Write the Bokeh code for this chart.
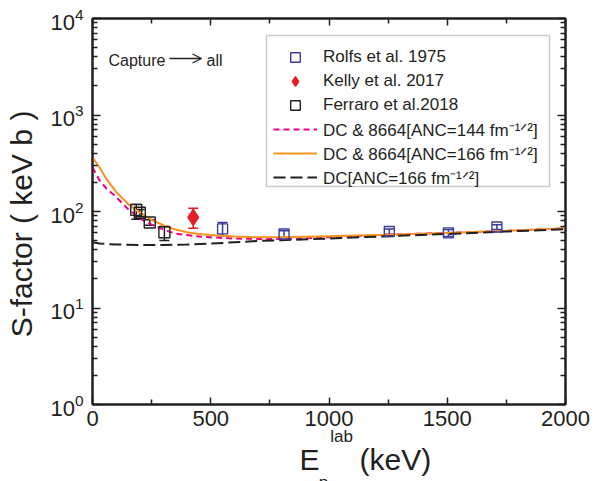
import math
from bokeh.plotting import figure
from bokeh.models import (ColumnDataSource, Whisker, TeeHead, Legend, LegendItem, BoxAnnotation,
                          Label, Arrow, OpenHead, LinearAxis, LogAxis, FixedTicker, Range1d)
from bokeh.embed import file_html
from bokeh.resources import INLINE

# ---------------- data ----------------
rolfs_e = [550, 810, 1255, 1505, 1710]
rolfs_s = [66, 58.5, 62, 60, 69]
rolfs_lo = [56, 54, 58, 55, 65]
rolfs_hi = [77, 63, 66, 65, 73]

kelly_e = [426]
kelly_s = [87]
kelly_lo = [67]
kelly_hi = [108]

ferraro_e = [185, 200, 242, 304]
ferraro_s = [104, 97, 77, 61]
ferraro_lo = [83, 88, 72, 50]
ferraro_hi = [118, 105, 82, 70]

anc144_e = [0, 30, 60, 100, 150, 200, 250, 300, 350, 400, 450, 500, 600, 700, 800, 1000, 1250, 1500, 1750, 2000]
anc144_s = [286, 210, 172, 141, 106, 85, 73, 65, 59, 57, 55, 54, 52.5, 52, 52, 54, 57.5, 60, 63, 67]

anc166_e = [0, 30, 60, 100, 150, 190, 250, 300, 350, 400, 450, 500, 550, 600, 700, 800, 1000, 1250, 1500, 1750, 2000]
anc166_s = [365, 285, 215, 160, 120, 101, 82, 72, 65, 61, 58.5, 57, 56, 55, 54, 54, 55.5, 57.5, 60, 63, 67]

dc_e = [0, 30, 100, 200, 300, 400, 500, 600, 700, 800, 1000, 1250, 1500, 1750, 2000]
dc_s = [48, 46.5, 45.5, 45, 45, 45.5, 46.5, 48, 49.5, 50.5, 52.5, 55.5, 58.5, 62, 65.5]

x_major = [0, 500, 1000, 1500, 2000]
x_minor = [250, 750, 1250, 1750]
y_major = [1, 10, 100, 1000, 10000]
y_minor = [k * 10 ** n for n in range(0, 4) for k in range(2, 10)]

legend_labels = ["Rolfs et al. 1975", "Kelly et al. 2017", "Ferraro et al.2018",
                 "DC & 8664[ANC=144 fm\u207b\u00b9\u141f\u00b2]",
                 "DC & 8664[ANC=166 fm\u207b\u00b9\u141f\u00b2]",
                 "DC[ANC=166 fm\u207b\u00b9\u141f\u00b2]"]
y_title = "S-factor ( keV b )"
x_title_main = "E"
x_title_sub = "p"
x_title_sup = "lab"
x_title_unit = "(keV)"
note_left = "Capture"
note_right = "all"

# ---------------- styling ----------------
FONT = "Liberation Sans"
TXT = "#231f20"
BLUE = "#3b3b9e"
RED = "#e31e24"
ORANGE = "#f7941d"
MAGENTA = "#ec008c"

W, H = 612, 481
FL, FR, FT, FB = 92, 565, 18, 404   # frame edges in pixels

p = figure(width=W, height=H, x_range=Range1d(0, 2000), y_range=Range1d(1, 1e4),
           y_axis_type="log", output_backend="svg", toolbar_location=None,
           min_border_left=FL, min_border_right=W - FR, min_border_top=FT,
           min_border_bottom=H - FB)
p.grid.visible = False
p.outline_line_color = TXT
p.outline_line_width = 2
p.background_fill_color = "white"
p.border_fill_color = "white"

def px2x(px):
    return (px - FL) / (FR - FL) * 2000.0

def py2y(py):
    return 10 ** (4.0 * (FB - py) / (FB - FT))

def style_axis(ax, show_labels, maj_in, min_in):
    ax.axis_line_color = TXT
    ax.axis_line_width = 2
    ax.major_tick_line_color = TXT
    ax.minor_tick_line_color = TXT
    ax.major_tick_line_width = 1.5
    ax.minor_tick_line_width = 1.5
    ax.major_tick_in = maj_in
    ax.major_tick_out = 0
    ax.minor_tick_in = min_in
    ax.minor_tick_out = 0
    ax.major_label_text_font = FONT
    ax.major_label_text_color = TXT
    if show_labels:
        ax.major_label_text_font_size = "22px"
    else:
        ax.major_label_text_font_size = "0px"
        ax.major_label_text_color = None
        ax.major_label_standoff = 0

xt = FixedTicker(ticks=x_major, minor_ticks=x_minor)
yt = FixedTicker(ticks=y_major, minor_ticks=y_minor)

xa = p.xaxis[0]
xa.ticker = xt
style_axis(xa, True, 7, 5)
xa.major_label_standoff = 6

ya = p.yaxis[0]
ya.ticker = yt
style_axis(ya, True, 8, 5)
ya.major_label_standoff = 9
ya.axis_label = y_title + "\u00a0\u00a0\u00a0"
ya.axis_label_text_font = FONT
ya.axis_label_text_font_size = "30px"
ya.axis_label_text_font_style = "normal"
ya.axis_label_text_color = TXT
ya.axis_label_standoff = 9

top_ax = LinearAxis(ticker=xt)
style_axis(top_ax, False, 7, 5)
p.add_layout(top_ax, "above")
right_ax = LogAxis(ticker=yt)
style_axis(right_ax, False, 8, 5)
p.add_layout(right_ax, "right")

# x-axis title pieces: extra tick-less axes stacked below the main axis
def text_axis(pieces, size, standoff):
    ticks = [int(round(px2x(px))) for px, _ in pieces]
    ax = LinearAxis(ticker=FixedTicker(ticks=ticks, minor_ticks=[]),
                    major_label_overrides={t: s for t, (_, s) in zip(ticks, pieces)})
    ax.axis_line_color = None
    ax.major_tick_line_color = None
    ax.minor_tick_line_color = None
    ax.major_tick_in = 0
    ax.major_tick_out = 0
    ax.minor_tick_in = 0
    ax.minor_tick_out = 0
    ax.major_label_text_font = FONT
    ax.major_label_text_font_size = size
    ax.major_label_text_color = TXT
    ax.major_label_standoff = standoff
    p.add_layout(ax, "below")

text_axis([(341, x_title_sup)], "17px", -2)
text_axis([(309, x_title_main), (395, x_title_unit)], "30px", -6)

p.add_layout(Label(x=323, y=482, x_units="canvas", y_units="canvas", text=x_title_sub,
                   text_font=FONT, text_font_size="17px", text_color=TXT,
                   text_align="center", text_baseline="alphabetic"), "right")

# ---------------- curves ----------------
r144 = p.line(anc144_e, anc144_s, line_color=MAGENTA, line_width=2, line_dash="6 4")
r166 = p.line(anc166_e, anc166_s, line_color=ORANGE, line_width=2)
rdc = p.line(dc_e, dc_s, line_color=TXT, line_width=2, line_dash="12 5")

# ---------------- data points with error bars ----------------
def points(e, s, lo, hi, color, marker, size, filled):
    src = ColumnDataSource(dict(x=e, y=s, lo=lo, hi=hi))
    p.add_layout(Whisker(base="x", upper="hi", lower="lo", source=src,
                         line_color=color, line_width=1.5,
                         upper_head=TeeHead(size=10, line_color=color, line_width=1.5),
                         lower_head=TeeHead(size=10, line_color=color, line_width=1.5)))
    return p.scatter("x", "y", source=src, marker=marker, size=size,
                     fill_color=color if filled else None, line_color=color,
                     line_width=1.4)

rr = points(rolfs_e, rolfs_s, rolfs_lo, rolfs_hi, BLUE, "square", 10, False)
rk = points(kelly_e, kelly_s, kelly_lo, kelly_hi, RED, "diamond", 16, True)
rf = points(ferraro_e, ferraro_s, ferraro_lo, ferraro_hi, TXT, "square", 11, False)

# legend frame drawn separately, legend rows placed inside it
p.add_layout(BoxAnnotation(left=px2x(266), right=px2x(549), top=py2y(35), bottom=py2y(186),
                           fill_color="white", fill_alpha=1,
                           line_color="#555555", line_width=1.5))

legend = Legend(items=[LegendItem(label=legend_labels[0], renderers=[rr]),
                       LegendItem(label=legend_labels[1], renderers=[rk]),
                       LegendItem(label=legend_labels[2], renderers=[rf]),
                       LegendItem(label=legend_labels[3], renderers=[r144]),
                       LegendItem(label=legend_labels[4], renderers=[r166]),
                       LegendItem(label=legend_labels[5], renderers=[rdc])],
                location=(273 - FL, FB - 189))
legend.label_text_font = FONT
legend.label_text_font_size = "17px"
legend.label_text_color = TXT
legend.glyph_width = 44
legend.glyph_height = 24
legend.label_height = 18
legend.spacing = -2
legend.padding = 7
legend.margin = 0
legend.label_standoff = 6
legend.border_line_color = None
legend.background_fill_alpha = 0
p.add_layout(legend)

# ---------------- annotations ----------------
def lab(px, py, text, size, align="left", baseline="alphabetic"):
    p.add_layout(Label(x=px2x(px), y=py2y(py), text=text, text_font=FONT,
                       text_font_size=size, text_color=TXT, text_align=align,
                       text_baseline=baseline))

lab(108, 60, note_left, "16px")
lab(206, 60, note_right, "16px")
p.add_layout(Arrow(x_start=px2x(169), y_start=py2y(58), x_end=px2x(201), y_end=py2y(58),
                   line_color=TXT, line_width=1.3,
                   end=OpenHead(size=9, line_color=TXT, line_width=1.3)))

open("out.html", "w").write(file_html(p, INLINE))
